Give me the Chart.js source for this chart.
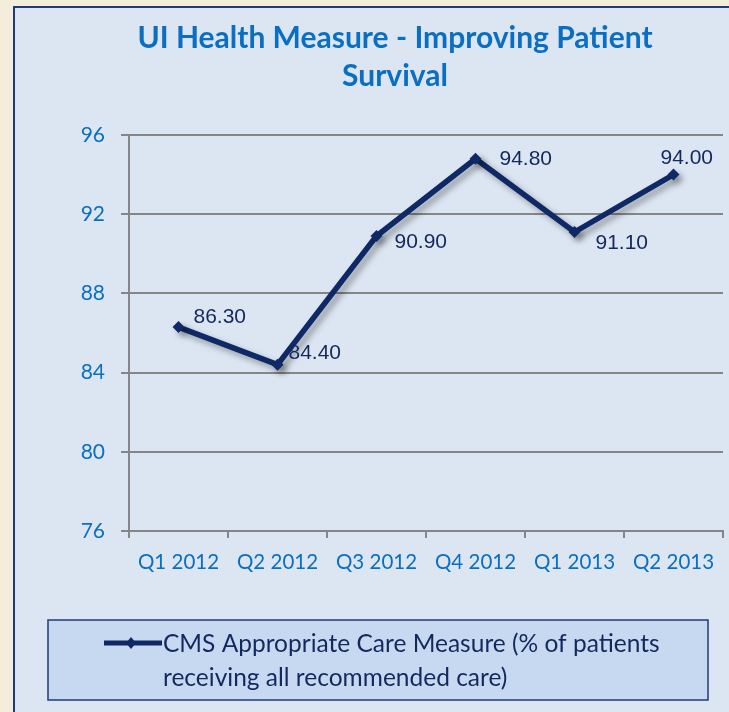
<!DOCTYPE html>
<html>
<head>
<meta charset="utf-8">
<script src="https://cdn.jsdelivr.net/npm/chart.js@4.4.0/dist/chart.umd.min.js"></script>
<style>
html,body{margin:0;padding:0;background:#f5eddc;}
#wrap{width:729px;height:712px;position:relative;}
canvas{display:block;}
</style>
</head>
<body>
<div id="wrap"><canvas id="c" width="729" height="712"></canvas></div>
<script>
const titleLines = ["UI Health Measure - Improving Patient", "Survival"];
const categories = ["Q1 2012", "Q2 2012", "Q3 2012", "Q4 2012", "Q1 2013", "Q2 2013"];
const seriesName = "CMS Appropriate Care Measure (% of patients receiving all recommended care)";
const legendLines = ["CMS Appropriate Care Measure (% of patients", "receiving all recommended care)"];
const values = [86.3, 84.4, 90.9, 94.8, 91.1, 94.0];
const yTicks = [76, 80, 84, 88, 92, 96];

const CAL = "Lato, 'Open Sans', sans-serif";
const NAVY = "#0f2866";
const BLUE = "#0a6fc2";

const panelPlugin = {
  id: 'panel',
  beforeDraw(chart) {
    const ctx = chart.ctx;
    ctx.save();
    ctx.fillStyle = '#f5eddc';
    ctx.fillRect(0, 0, chart.width, chart.height);
    ctx.fillStyle = '#dce6f2';
    ctx.fillRect(14, 7, chart.width - 14, chart.height);
    ctx.strokeStyle = '#1f3a78';
    ctx.lineWidth = 2;
    ctx.strokeRect(14, 7, chart.width + 10, chart.height + 10);
    // title
    ctx.fillStyle = BLUE;
    ctx.font = "bold 30px " + CAL;
    ctx.textAlign = 'center';
    ctx.textBaseline = 'middle';
    ctx.fillText(titleLines[0], 395, 38);
    ctx.fillText(titleLines[1], 395, 76);
    // legend box
    ctx.fillStyle = '#c6d9f1';
    ctx.fillRect(48, 620, 660, 80);
    ctx.strokeStyle = '#1f3a78';
    ctx.lineWidth = 1.5;
    ctx.strokeRect(48, 620, 660, 80);
    ctx.strokeStyle = NAVY;
    ctx.lineWidth = 5;
    ctx.beginPath();
    ctx.moveTo(104, 643);
    ctx.lineTo(162, 643);
    ctx.stroke();
    ctx.fillStyle = NAVY;
    ctx.beginPath();
    ctx.moveTo(131, 637); ctx.lineTo(136, 643); ctx.lineTo(131, 649); ctx.lineTo(126, 643);
    ctx.closePath(); ctx.fill();
    ctx.fillStyle = '#13295e';
    ctx.font = "24.5px " + CAL;
    ctx.textAlign = 'left';
    ctx.fillText(legendLines[0], 163, 644);
    ctx.fillText(legendLines[1], 163, 678);
    ctx.restore();
  }
};

const shadowPlugin = {
  id: 'shadow',
  beforeDatasetDraw(chart) {
    const ctx = chart.ctx;
    ctx.save();
    ctx.shadowColor = 'rgba(0,0,0,0.35)';
    ctx.shadowBlur = 6;
    ctx.shadowOffsetX = 4;
    ctx.shadowOffsetY = 4;
  },
  afterDatasetDraw(chart) {
    chart.ctx.restore();
  }
};

const labelPlugin = {
  id: 'vlabels',
  afterDatasetsDraw(chart, args, opts) {
    const ctx = chart.ctx;
    const meta = chart.getDatasetMeta(0);
    ctx.save();
    ctx.fillStyle = '#13295e';
    ctx.font = "21px 'Liberation Sans', Arial, sans-serif";
    ctx.textAlign = 'left';
    ctx.textBaseline = 'middle';
    meta.data.forEach((pt, i) => {
      const o = opts.offsets[i];
      ctx.fillText(values[i].toFixed(2), pt.x + o[0], pt.y + o[1]);
    });
    ctx.restore();
  }
};

new Chart(document.getElementById('c'), {
  type: 'line',
  data: {
    labels: categories,
    datasets: [{
      label: seriesName,
      data: values,
      borderColor: NAVY,
      backgroundColor: NAVY,
      borderWidth: 5.5,
      pointStyle: 'rectRot',
      pointRadius: 6,
      pointBorderWidth: 0,
      tension: 0,
      fill: false
    }]
  },
  plugins: [panelPlugin, shadowPlugin, labelPlugin],
  options: {
    responsive: false,
    animation: false,
    devicePixelRatio: 1,
    layout: { padding: { top: 135, right: 3, bottom: 131, left: 0 } },
    plugins: {
      legend: { display: false },
      title: { display: false },
      tooltip: { enabled: false },
      vlabels: {
        offsets: [[15, -10], [11, -11], [18, 6], [24, 0], [21, 11], [-13, -16]]
      }
    },
    scales: {
      x: {
        offset: true,
        afterFit(s) { s.height = 50; },
        border: { color: '#868686', width: 2 },
        grid: { drawOnChartArea: false, drawTicks: true, tickLength: 7, color: '#868686', lineWidth: 2, offset: true },
        ticks: { color: BLUE, font: { family: CAL, size: 20.5 }, padding: 12, maxRotation: 0 }
      },
      y: {
        min: 76, max: 96,
        afterFit(s) { s.width = 129; },
        afterBuildTicks(s) { s.ticks = yTicks.map(v => ({ value: v })); },
        border: { color: '#868686', width: 2 },
        grid: { color: '#868686', lineWidth: 2, tickLength: 8, drawTicks: true },
        ticks: { color: BLUE, font: { family: CAL, size: 21 }, padding: 16 }
      }
    }
  }
});
</script>
</body>
</html>
